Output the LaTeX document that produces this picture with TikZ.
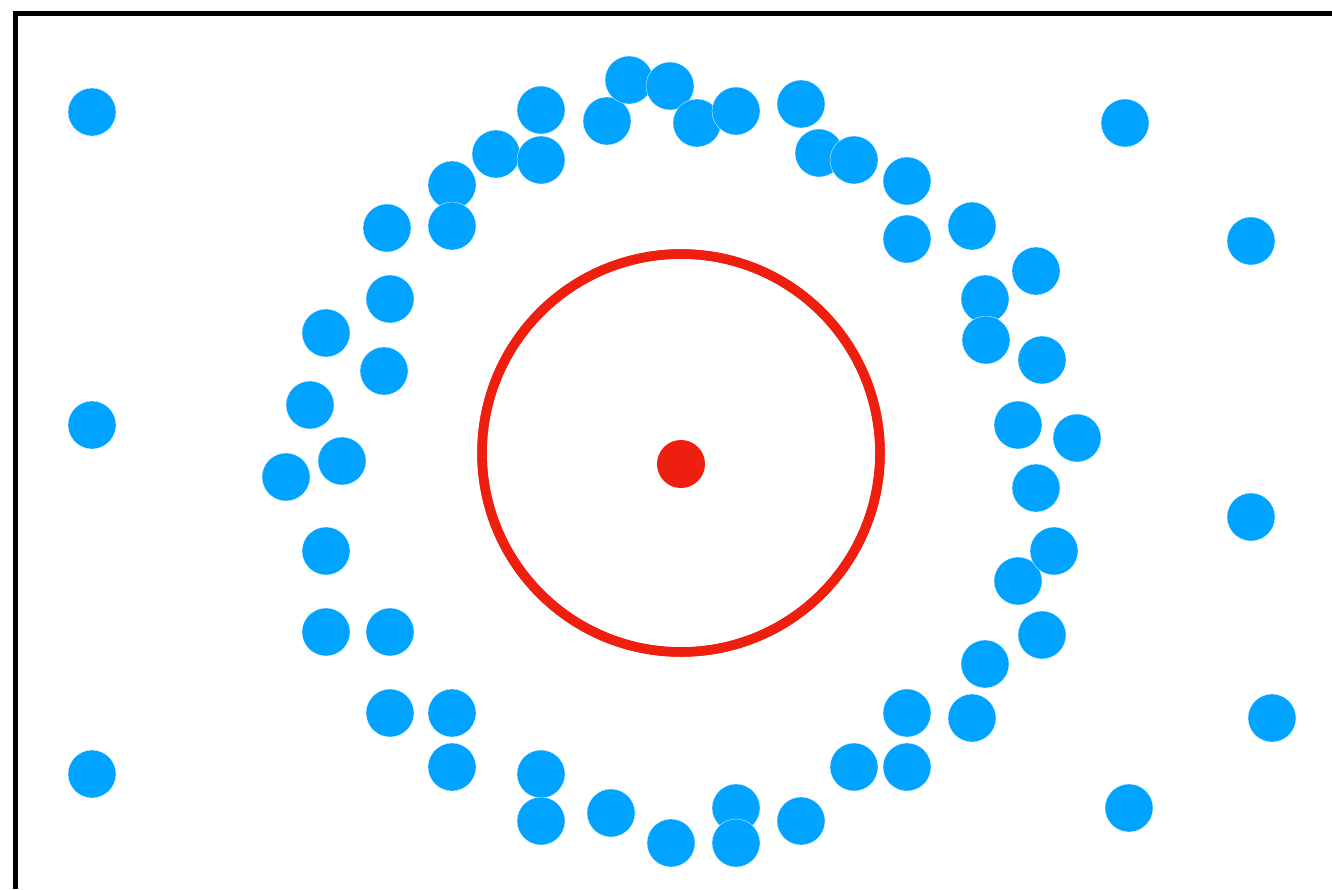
\documentclass[tikz,border=0pt]{standalone}
\definecolor{dotblue}{HTML}{00A3FF}
\definecolor{ringred}{HTML}{EE1F0F}
\begin{document}
\begin{tikzpicture}[x=1pt,y=-1pt,
  dot/.style={circle,fill=dotblue,draw=white,line width=0.3pt,minimum size=48pt,inner sep=0pt},
  reddot/.style={circle,fill=ringred,minimum size=48pt,inner sep=0pt},
  ring/.style={draw=ringred,line width=9.5pt,line join=round},
  axis/.style={black,line width=5pt}]
\useasboundingbox (0,0) rectangle (1332,889);
\coordinate (tl) at (15.5,13);
\coordinate (bl) at (15.5,889);
\coordinate (tr) at (1332,13);
\draw[axis] (bl) -- (tl) -- (tr);
\coordinate (ringc) at (681,453);
\draw[ring] (ringc) circle[radius=199pt];
\draw[ring,rotate around={45:(ringc)}] (ringc) circle[radius=199pt];
\node[reddot] (center) at (681,464) {};
\foreach \x/\y [count=\i] in {92/112,92/425,92/774,1125/123,1251/241,1251/517,1272/718,1129/808,
  607/121,629/80,670/86,697/123,736/111,801/104,541/110,496/154,541/160,452/185,452/226,387/228,
  819/153,854/160,907/181,907/239,972/226,1036/271,985/299,986/340,1042/360,390/299,326/333,384/371,
  310/405,342/461,286/477,326/551,326/632,390/632,390/713,452/713,452/767,541/774,541/821,611/813,
  671/843,736/808,736/843,801/821,854/767,907/713,907/767,972/718,985/664,1042/635,1018/581,1054/551,
  1036/488,1018/425,1077/438}
  \node[dot] (d\i) at (\x,\y) {};
\end{tikzpicture}
\end{document}
